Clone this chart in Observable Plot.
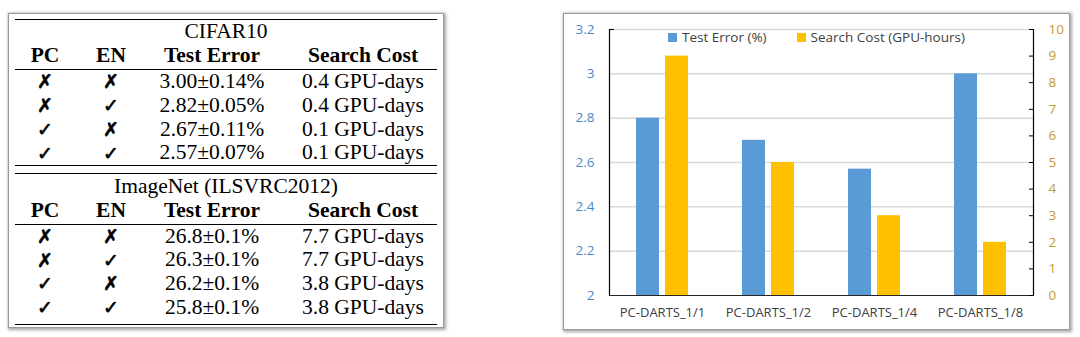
<!DOCTYPE html>
<html>
<head>
<meta charset="utf-8">
<script src="https://cdn.jsdelivr.net/npm/d3@7"></script>
<script src="https://cdn.jsdelivr.net/npm/@observablehq/plot@0.6"></script>
<style>
html, body { margin: 0; padding: 0; background: #fff; }
#root { position: relative; width: 1080px; height: 337px; overflow: hidden; background: #fff; }
.box { position: absolute; background: #fff; border: 1px solid #9a9a9a; box-shadow: 1px 1px 3px 1px rgba(0,0,0,0.35); }
#tbox { left: 8px; top: 13px; width: 434px; height: 313px; }
#cbox { left: 563px; top: 13px; width: 505px; height: 315px; }
.sec { position: absolute; left: 6px; width: 422px; border-top: 1.5px solid #000; border-bottom: 1.5px solid #000;
  font-family: "Liberation Serif", "Times New Roman", serif; font-size: 21.5px; color: #000; }
.row { display: grid; grid-template-columns: 60px 72px 130px 160px; align-items: center; text-align: center; line-height: 1; white-space: nowrap; }
.row.title { display: block; text-align: center; }
.row.head { font-weight: bold; border-bottom: 1px solid #000; }
.row .c4 { padding-left: 12px; }
.mark { font-family: "DejaVu Sans", sans-serif; font-size: 19px; font-weight: normal; -webkit-text-stroke: 0.6px #000; }
#chart { position: absolute; left: 0; top: 0; }
#legend { position: absolute; left: 104px; top: 14px; }
.lg-swatches { min-height: 0 !important; margin: 0 !important; font-family: "Open Sans", sans-serif !important; font-size: 13.5px !important; color: #404040 !important; }
.lg-swatch { margin-right: 30px !important; }
.lg-swatch > svg { margin-right: 5px !important; }
</style>
</head>
<body>
<div id="root">
  <div id="tbox" class="box"></div>
  <div id="cbox" class="box"></div>
</div>
<script>
// ---------- Table data ----------
const tableHeaders = ["PC", "EN", "Test Error", "Search Cost"];
const cifarTitle = "CIFAR10";
const imagenetTitle = "ImageNet (ILSVRC2012)";
const pcFlags = [false, false, true, true];
const enFlags = [false, true, false, true];
const cifarError = ["3.00±0.14%", "2.82±0.05%", "2.67±0.11%", "2.57±0.07%"];
const cifarCost = ["0.4 GPU-days", "0.4 GPU-days", "0.1 GPU-days", "0.1 GPU-days"];
const imagenetError = ["26.8±0.1%", "26.3±0.1%", "26.2±0.1%", "25.8±0.1%"];
const imagenetCost = ["7.7 GPU-days", "7.7 GPU-days", "3.8 GPU-days", "3.8 GPU-days"];

// ---------- Chart data ----------
const categories = ["PC-DARTS_1/1", "PC-DARTS_1/2", "PC-DARTS_1/4", "PC-DARTS_1/8"];
const testError = [2.8, 2.7, 2.57, 3.0];
const searchCost = [9, 5, 3, 2];
const seriesNames = ["Test Error (%)", "Search Cost (GPU-hours)"];
const seriesColors = ["#5b9bd5", "#ffc000"];
const leftTicks = [2, 2.2, 2.4, 2.6, 2.8, 3, 3.2];
const rightTicks = [0, 1, 2, 3, 4, 5, 6, 7, 8, 9, 10];
const leftDomain = [2, 3.2];
const rightDomain = [0, 10];

// ---------- Build table ----------
const tbox = document.getElementById("tbox");
function section(title, errors, costs, top, rowsSpec) {
  const sec = document.createElement("div");
  sec.className = "sec";
  sec.style.top = top + "px";
  const t = document.createElement("div");
  t.className = "row title";
  t.style.height = rowsSpec.title + "px";
  t.style.lineHeight = rowsSpec.title + "px";
  t.textContent = title;
  sec.appendChild(t);
  const h = document.createElement("div");
  h.className = "row head";
  h.style.height = rowsSpec.head + "px";
  tableHeaders.forEach((s, i) => {
    const c = document.createElement("div");
    if (i === 3) c.className = "c4";
    c.textContent = s;
    h.appendChild(c);
  });
  sec.appendChild(h);
  errors.forEach((e, r) => {
    const row = document.createElement("div");
    row.className = "row";
    row.style.height = rowsSpec.row + "px";
    [pcFlags[r], enFlags[r]].forEach(f => {
      const c = document.createElement("div");
      c.className = "mark";
      c.textContent = f ? "✓" : "✗";
      row.appendChild(c);
    });
    const c3 = document.createElement("div");
    c3.textContent = e;
    row.appendChild(c3);
    const c4 = document.createElement("div");
    c4.className = "c4";
    c4.textContent = costs[r];
    row.appendChild(c4);
    sec.appendChild(row);
  });
  if (rowsSpec.pad) {
    const p = document.createElement("div");
    p.style.height = rowsSpec.pad + "px";
    sec.appendChild(p);
  }
  tbox.appendChild(sec);
}
section(cifarTitle, cifarError, cifarCost, 5, {title: 22, head: 27, row: 23.75, pad: 0});
section(imagenetTitle, imagenetError, imagenetCost, 158.5, {title: 24, head: 26, row: 23.75, pad: 4});

// ---------- Build chart ----------
const toLeft = d3.scaleLinear(rightDomain, leftDomain);
const bars = categories.flatMap((c, i) => [
  {cat: c, series: seriesNames[0], value: testError[i]},
  {cat: c, series: seriesNames[1], value: toLeft(searchCost[i])}
]);

const chart = Plot.plot({
  width: 505,
  height: 315,
  marginLeft: 44,
  marginRight: 36,
  marginTop: 15,
  marginBottom: 34,
  style: {fontFamily: "'Open Sans', sans-serif", fontSize: "13px", background: "transparent", overflow: "visible"},
  fx: {domain: categories, padding: 0, label: null},
  x: {domain: seriesNames, paddingInner: 0.2, paddingOuter: 0.867, axis: null},
  y: {domain: leftDomain, axis: null},
  color: {domain: seriesNames, range: seriesColors},
  marks: [
    Plot.ruleY(leftTicks.slice(1), {stroke: "#d9d9d9", strokeWidth: 1.5}),
    Plot.barY(bars, {fx: "cat", x: "series", y1: leftDomain[0], y2: "value", fill: "series"}),
    Plot.ruleY([leftDomain[0]], {stroke: "#262626", strokeWidth: 1.2}),
    Plot.frame({anchor: "left", facetAnchor: "left", stroke: "#000", strokeWidth: 1.2}),
    Plot.frame({anchor: "right", facetAnchor: "right", stroke: "#000", strokeWidth: 1.2}),
    Plot.axisY(leftTicks, {anchor: "left", label: null, tickSize: 0, tickPadding: 15,
      tickFormat: d => String(d), fill: "#4a89c8", fontSize: 13.5}),
    Plot.axisY([leftDomain[1]], {anchor: "left", label: null, tickSize: 5, dx: 5, fill: "none", stroke: "#000"}),
    Plot.axisY(rightTicks.map(toLeft), {anchor: "right", label: null, tickSize: 5, dx: -5, fill: "none", stroke: "#000"}),
    Plot.axisY(rightTicks.map(toLeft), {anchor: "right", label: null, tickSize: 0, tickPadding: 15,
      tickFormat: d => String(Math.round(toLeft.invert(d))), fill: "#c49a32", fontSize: 13.5}),
    Plot.axisFx({anchor: "bottom", tickSize: 0, tickPadding: 12, label: null, fill: "#404040", fontSize: 13})
  ]
});
chart.id = "chart";
const cbox = document.getElementById("cbox");
cbox.appendChild(chart);

const legend = Plot.legend({
  color: {type: "ordinal", domain: seriesNames, range: seriesColors},
  swatchSize: 9,
  className: "lg"
});
legend.id = "legend";
cbox.appendChild(legend);
</script>
</body>
</html>
